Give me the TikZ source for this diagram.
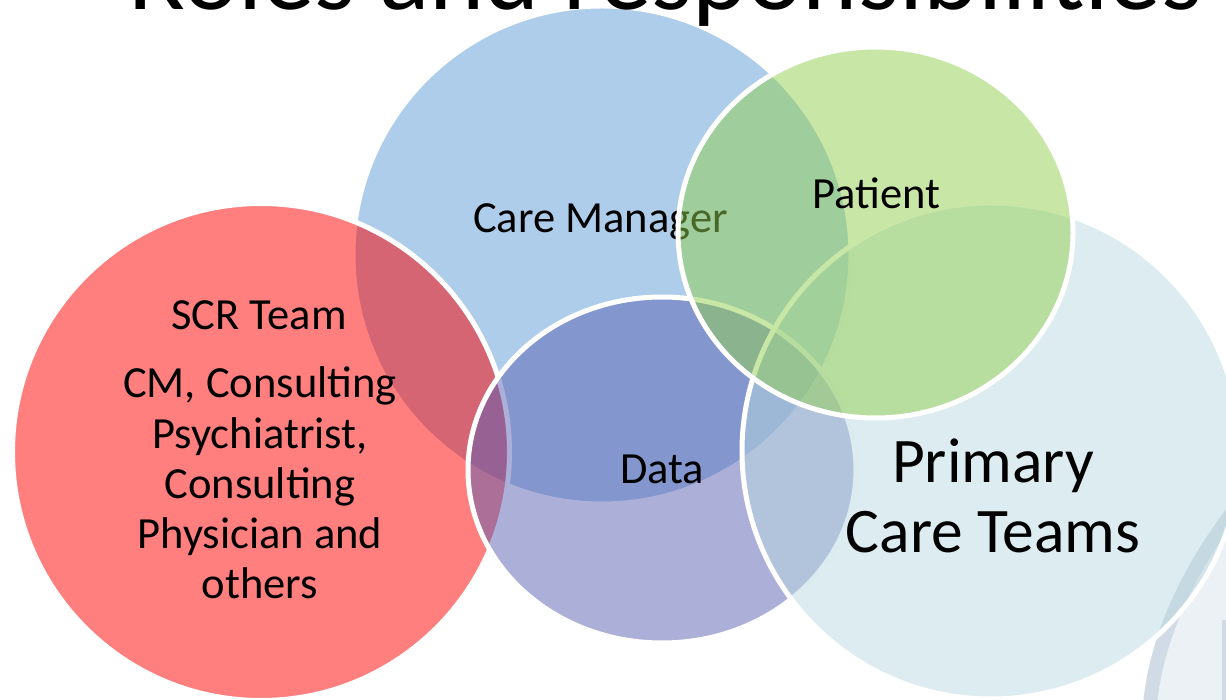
\documentclass[tikz,border=0pt]{standalone}
\usepackage{fontspec}
\setmainfont{Carlito}
\usetikzlibrary{shapes.geometric}

\definecolor{cmblue}{RGB}{91,155,213}
\definecolor{scrred}{RGB}{255,0,0}
\definecolor{datapurple}{RGB}{90,96,178}
\definecolor{pctblue}{RGB}{185,217,225}
\definecolor{patgreen}{RGB}{146,208,80}
\definecolor{ribbongray}{RGB}{208,219,229}
\definecolor{ribbonlight}{RGB}{236,241,246}

\begin{document}
\begin{tikzpicture}[x=1pt,y=-1pt,
	venn/.style={ellipse, draw=white, line width=5pt, fill opacity=0.5, inner sep=0pt},
	lbl/.style={anchor=base, inner sep=0pt, font=\fontsize{44.5}{50}\selectfont},
	biglbl/.style={anchor=base, inner sep=0pt, font=\fontsize{63.5}{70}\selectfont}]
	\useasboundingbox (0,0) rectangle (1226,700);
	\clip (0,0) rectangle (1226,700);

	\fill[ribbonlight] (1232,505) .. controls (1185,565) and (1152,635) .. (1143,705) -- (1232,705) -- cycle;
	\draw[ribbongray, line width=14pt] (1236,508) .. controls (1189,568) and (1156,638) .. (1150,705);
	\draw[ribbongray, line width=8pt] (1226,620) -- (1226,705);

	\node[venn, fill=cmblue, minimum width=498, minimum height=498] (caremgr) at (602,255) {};
	\node[lbl] (caremgr-txt) at (600.5,233) {Care Manager};

	\node[venn, fill=scrred, minimum width=497, minimum height=497] (scr) at (261,452) {};
	\node[lbl] (scr-txt) at (259,330) {SCR Team};
	\foreach \line [count=\i] in {{CM, Consulting},{Psychiatrist,},Consulting,{Physician and},others}
		\node[lbl] (scr-\i) at (260,348+50*\i) {\line};

	\node[venn, fill=datapurple, minimum width=388, minimum height=346] (data) at (662,470) {};
	\node[lbl] (data-txt) at (662,483) {Data};

	\node[venn, fill=pctblue, minimum width=498, minimum height=496] (pct) at (991,451) {};
	\node[biglbl] (pct-1) at (993,482) {Primary};
	\node[biglbl] (pct-2) at (993,552) {Care Teams};

	\node[venn, fill=patgreen, minimum width=395, minimum height=371] (patient) at (875.5,232.5) {};
	\node[lbl] (patient-txt) at (876.5,209) {Patient};

	\node[anchor=base west, inner sep=0pt, font=\fontsize{105}{120}\selectfont] (title) at (128,10) {Roles and responsibilities};
\end{tikzpicture}
\end{document}
